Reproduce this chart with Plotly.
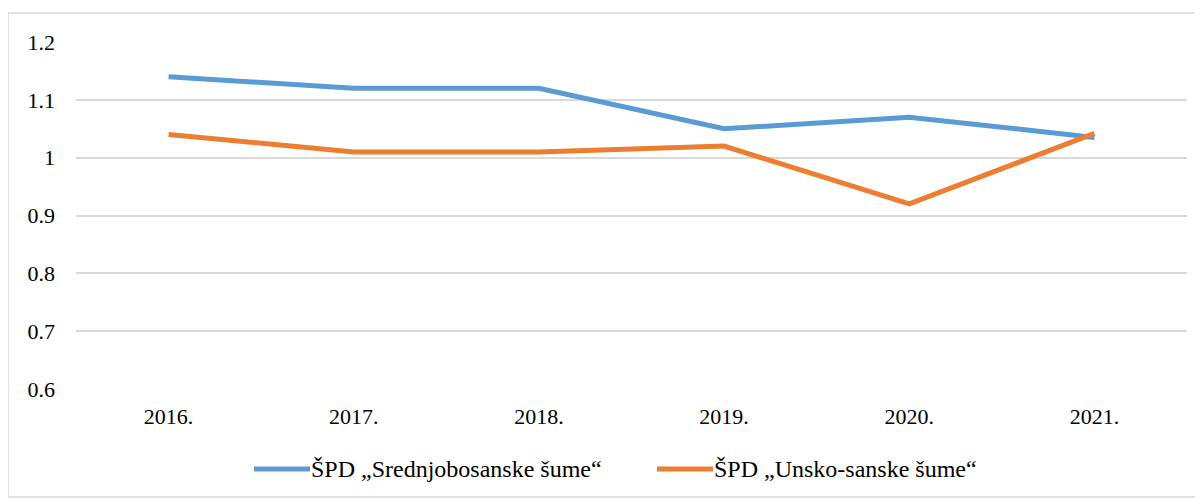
import plotly.graph_objects as go

years = ["2016.", "2017.", "2018.", "2019.", "2020.", "2021."]
srednjobosanske = [1.14, 1.12, 1.12, 1.05, 1.07, 1.035]
unsko_sanske = [1.04, 1.01, 1.01, 1.02, 0.92, 1.042]

names = ["ŠPD „Srednjobosanske šume“", "ŠPD „Unsko-sanske šume“"]
colors = ["#5b9bd5", "#ed7d31"]

# page body keeps its default 8px margin, so the figure is shifted by that
OFF = 8
W, H = 1203 - OFF, 498 - OFF
L, T = 76 - OFF, 42 - OFF
pw, ph = 1111, 347
R, B = W - L - pw, H - T - ph
FONT = "Liberation Serif"


def px_x(x):
    return (x - OFF - L) / pw


def px_y(y):
    return (H - B - (y - OFF)) / ph


fig = go.Figure()
for vals, name, col in zip([srednjobosanske, unsko_sanske], names, colors):
    fig.add_trace(go.Scatter(x=years, y=vals, mode="lines", name=name,
                             line=dict(color=col, width=5)))

# legend drawn by hand so the sample lines get Excel's length
shapes = [dict(type="rect", xref="paper", yref="paper",
               x0=px_x(8), x1=px_x(1201), y0=px_y(497), y1=px_y(13),
               line=dict(color="#d9d9d9", width=1.5), layer="below")]
annotations = []
leg_y = px_y(469)
for name, col, x0 in zip(names, colors, [254, 657]):
    shapes.append(dict(type="line", xref="paper", yref="paper",
                       x0=px_x(x0), x1=px_x(x0 + 56), y0=leg_y, y1=leg_y,
                       line=dict(color=col, width=5)))
    annotations.append(dict(text=name, xref="paper", yref="paper",
                            x=px_x(x0 + 55), y=leg_y, xanchor="left", yanchor="middle",
                            showarrow=False, font=dict(size=24, family=FONT, color="#000000")))

fig.update_layout(
    width=W, height=H,
    margin=dict(l=L, r=R, t=T, b=B),
    paper_bgcolor="white", plot_bgcolor="white",
    font=dict(family=FONT, size=22, color="#000000"),
    showlegend=False,
    xaxis=dict(type="category", range=[-0.5, 5.5], showgrid=False, showline=False,
               zeroline=False, ticks="", ticklabelstandoff=12),
    yaxis=dict(range=[0.6, 1.2], dtick=0.1, tickformat="~g", showgrid=True,
               gridcolor="#d9d9d9", gridwidth=1.5, zeroline=False, showline=False,
               ticks="", ticklabelstandoff=20),
    shapes=shapes,
    annotations=annotations,
)

fig.write_html("out.html")
